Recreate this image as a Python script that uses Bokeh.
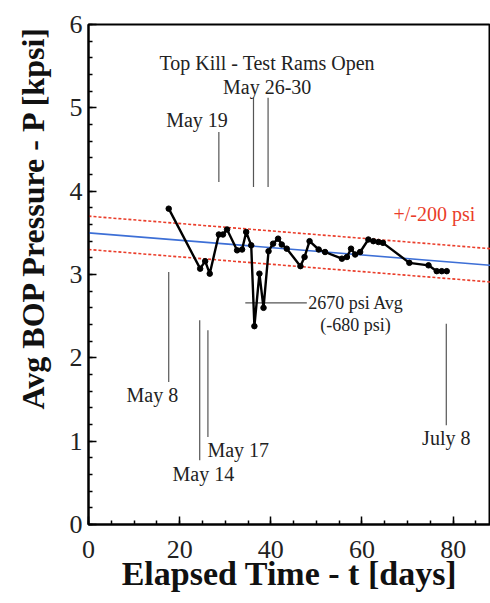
import math
from bokeh.plotting import figure
from bokeh.models import Range1d, Label, SingleIntervalTicker, Title
from bokeh.embed import file_html
from bokeh.resources import INLINE

# ---- data ----
days = [17.6, 24.5, 25.6, 26.6, 28.6, 29.5, 30.4, 32.6, 33.7, 34.6, 35.7, 36.4, 37.5, 38.4,
        39.5, 40.5, 41.6, 42.4, 43.5, 46.5, 47.4, 48.5, 50.5, 51.9, 55.6, 56.7, 57.6, 58.5,
        59.6, 61.4, 62.5, 63.6, 64.6, 70.4, 74.6, 76.4, 77.5, 78.6]
pressure = [3.79, 3.07, 3.16, 3.01, 3.48, 3.48, 3.54, 3.29, 3.30, 3.51, 3.35, 2.38, 3.01, 2.60,
            3.28, 3.37, 3.43, 3.36, 3.31, 3.10, 3.21, 3.40, 3.30, 3.27, 3.19, 3.21, 3.31, 3.24,
            3.27, 3.42, 3.40, 3.39, 3.38, 3.14, 3.11, 3.04, 3.04, 3.04]
trend_t = [0, 88.2]
trend_p = [3.50, 3.11]
band = 0.2

event_day = [17.6, 24.4, 26.2, 28.6, 36.2, 39.4, 78.5]
event_y0 = [3.03, 2.45, 2.33, 4.71, 5.12, 5.12, 2.41]
event_y1 = [1.71, 0.77, 1.05, 4.11, 4.05, 4.05, 1.19]

avg_line_t = [34.4, 47.9]
avg_line_p = [2.66, 2.66]

x_ticks_major = 20
y_ticks_major = 1
x_max = 88.2

SERIF = "Liberation Serif"

p = figure(width=490, height=603, output_backend="svg", toolbar_location=None,
           x_range=Range1d(0, x_max), y_range=Range1d(0, 6),
           min_border_left=88, min_border_right=0, min_border_top=24, min_border_bottom=79)
p.background_fill_color = "white"
p.border_fill_color = "white"
p.outline_line_color = "black"
p.outline_line_width = 2
p.xgrid.visible = False
p.ygrid.visible = False

bottom = p.below[0]
left = p.left[0]

# trend and band
p.line(trend_t, trend_p, line_color="#3d6fd6", line_width=1.6)
p.line(trend_t, [v + band for v in trend_p], line_color="#ea3d2a", line_width=1.6, line_dash="3 2")
p.line(trend_t, [v - band for v in trend_p], line_color="#ea3d2a", line_width=1.6, line_dash="3 2")

# event lines
p.segment(x0=event_day, y0=event_y0, x1=event_day, y1=event_y1, line_color="#555555", line_width=1.2)
p.line(avg_line_t, avg_line_p, line_color="#555555", line_width=1.2)

# data
p.line(days, pressure, line_color="black", line_width=2.4)
p.scatter(days, pressure, size=5.5, color="black")

# axes
for ax in (bottom, left):
    ax.axis_line_width = 2
    ax.axis_line_color = "black"
    ax.major_tick_in = 8
    ax.major_tick_out = 0
    ax.minor_tick_in = 4
    ax.minor_tick_out = 0
    ax.major_tick_line_width = 1.5
    ax.minor_tick_line_width = 1.5
    ax.major_tick_line_color = "black"
    ax.minor_tick_line_color = "black"
    ax.major_label_text_font = SERIF
    ax.major_label_text_font_size = "26px"
    ax.major_label_text_color = "#222222"

bottom.ticker = SingleIntervalTicker(interval=x_ticks_major, num_minor_ticks=4)
left.ticker = SingleIntervalTicker(interval=y_ticks_major, num_minor_ticks=5)
bottom.major_label_standoff = 16
left.major_label_standoff = 6

bottom.axis_label = "Elapsed Time - t [days]"
bottom.axis_label_text_font = SERIF
bottom.axis_label_text_font_style = "bold"
bottom.axis_label_text_font_size = "34px"
bottom.axis_label_text_color = "#111111"
bottom.axis_label_standoff = -6

ytitle = Title(text="Avg BOP Pressure - P [kpsi]", text_font=SERIF, text_font_style="bold",
               text_font_size="32px", text_color="#111111", align="right", offset=0,
               standoff=28, vertical_align="top")
p.add_layout(ytitle, "left")

def lab(x, y, text, align="center", size="20px", color="#222222", **kw):
    p.add_layout(Label(x=x, y=y, text=text, text_font=SERIF, text_font_size=size,
                       text_color=color, text_align=align, text_baseline="middle", **kw))

lab(14.0, 1.55, "May 8")
lab(25.2, 0.61, "May 14")
lab(26.1, 0.90, "May 17", align="left")
lab(23.8, 4.85, "May 19")
lab(39.2, 5.54, "Top Kill - Test Rams Open")
lab(39.2, 5.25, "May 26-30")
lab(78.5, 1.04, "July 8")
lab(48.2, 2.66, "2670 psi Avg", align="left", size="18px")
lab(58.6, 2.39, "(-680 psi)", size="18px")
lab(66.9, 3.73, "+/-200 psi", align="left", color="#ea3d2a")

open("out.html", "w").write(file_html(p, INLINE))
